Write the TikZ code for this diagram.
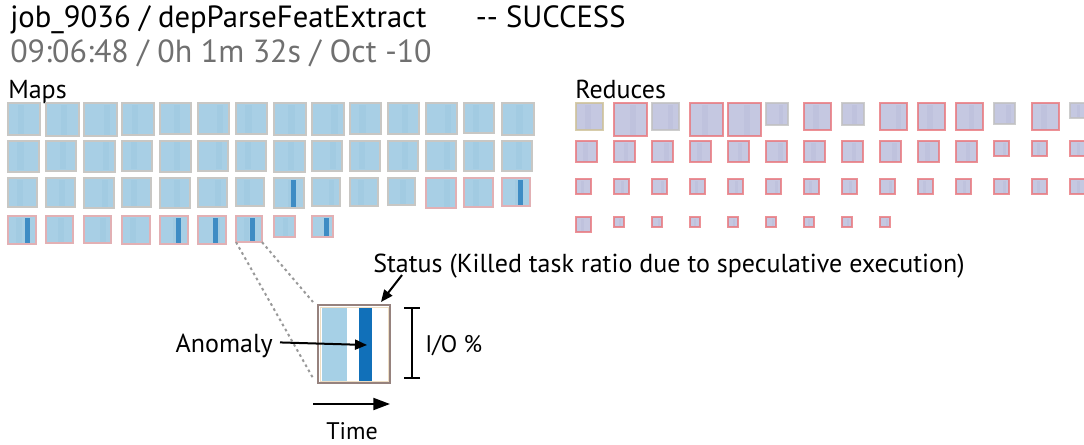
\documentclass[tikz,border=0pt]{standalone}
\usepackage{fontspec}
\setmainfont{PT Sans}
\usetikzlibrary{arrows.meta,calc}

\definecolor{mapfill}{RGB}{168,207,229}
\definecolor{mapband}{RGB}{155,199,224}
\definecolor{mapgray}{RGB}{200,199,196}
\definecolor{mappink}{RGB}{226,176,180}
\definecolor{anomblue}{RGB}{62,140,196}
\definecolor{redfill}{RGB}{197,200,225}
\definecolor{redband}{RGB}{186,190,219}
\definecolor{redline}{RGB}{232,118,124}
\definecolor{redgray}{RGB}{192,192,192}
\definecolor{redtan}{RGB}{205,192,150}
\definecolor{legline}{RGB}{150,130,126}
\definecolor{legcream}{RGB}{238,222,196}
\definecolor{ioblue}{RGB}{17,112,185}
\definecolor{iolight}{RGB}{166,208,230}
\definecolor{subgray}{RGB}{112,112,112}

\tikzset{
  task/.style={rectangle, inner sep=0pt, outer sep=0pt, anchor=north west, line width=1.6pt},
  mapbox/.style={task, fill=mapfill},
  redbox/.style={task, fill=redfill, line width=1.3pt, draw opacity=.8},
  txt/.style={inner sep=0pt, font=\fontsize{19.5}{23}\selectfont},
  pointer/.style={line width=1.5pt, -{Triangle[length=9pt,width=7.5pt]}},
  zoomline/.style={gray!80, line width=1.5pt, dash pattern=on 2pt off 2.4pt},
}

\begin{document}
\begin{tikzpicture}[x=0.75pt, y=-0.75pt]
    \useasboundingbox (0,0) rectangle (1084,444);

    % Kopfzeilen
    \node[txt, font=\fontsize{23}{27}\selectfont, anchor=base west] (title) at (10,27)
      {job\_9036 / depParseFeatExtract\hspace{37pt}{-}{-} SUCCESS};
    \node[txt, font=\fontsize{24}{28}\selectfont, text=subgray, anchor=base west] (sub) at (10,62)
      {09:06:48 / 0h 1m 32s / Oct -10};
    \node[txt, anchor=base west] (maps) at (8,98) {Maps};
    \node[txt, anchor=base west] (reduces) at (575,98) {Reduces};

    % Map-Tasks: Zeile/Spalte/Groesse/Rand/Anomalie
    \foreach \r/\c/\s/\b/\a in {
        1/0/32/mapgray/0, 1/1/33/mapgray/0, 1/2/33/mapgray/0, 1/3/32/mapgray/0, 1/4/31/mapgray/0,
        1/5/31/mapgray/0, 1/6/31/mapgray/0, 1/7/32/mapgray/0, 1/8/32/mapgray/0, 1/9/31/mapgray/0,
        1/10/31/mapgray/0, 1/11/31/mapgray/0, 1/12/30/mapgray/0, 1/13/32/mapgray/0,
        2/0/31/mapgray/0, 2/1/30/mapgray/0, 2/2/31/mapgray/0, 2/3/30/mapgray/0, 2/4/31/mapgray/0,
        2/5/30/mapgray/0, 2/6/30/mapgray/0, 2/7/31/mapgray/0, 2/8/30/mapgray/0, 2/9/30/mapgray/0,
        2/10/30/mapgray/0, 2/11/30/mapgray/0, 2/12/30/mapgray/0, 2/13/30/mapgray/0,
        3/0/29/mapgray/0, 3/1/29/mapgray/0, 3/2/30/mapgray/0, 3/3/29/mapgray/0, 3/4/30/mapgray/0,
        3/5/29/mapgray/0, 3/6/28/mapgray/0, 3/7/30/mapgray/17, 3/8/28/mapgray/0, 3/9/28/mapgray/0,
        3/10/27/mapgray/0, 3/11/30/mappink/0, 3/12/29/mappink/0, 3/13/28/mappink/16,
        4/0/28/mappink/17, 4/1/27/mappink/0, 4/2/27/mappink/0, 4/3/28/mappink/0, 4/4/28/mappink/16,
        4/5/28/mappink/15, 4/6/26/mappink/14, 4/7/21/mappink/0, 4/8/21/mappink/12} {
        \node[mapbox, draw=\b, minimum size=\s*0.75pt] (m-\r-\c) at ({8+38*\c},{103+37.7*(\r-1)}) {};
        \fill[mapband, opacity=.45] ($(m-\r-\c.north west)+({\s*(0.3+0.15*mod(\c,3))},1.5)$) rectangle +({\s*0.2},{\s-3});
        \ifnum\a>0 \fill[anomblue] ($(m-\r-\c.north west)+(\a,1.5)$) rectangle +(5,{\s-3}); \fi
    }

    % Reduce-Tasks
    \foreach \c/\s/\b in {0/27/redtan, 1/33/redline, 2/27/redgray, 3/33/redline, 4/33/redline,
        5/22/redgray, 6/27/redline, 7/22/redgray, 8/27/redline, 9/27/redline, 10/27/redline,
        11/21/redgray, 12/27/redline, 13/15/redgray} {
        \node[redbox, draw=\b, minimum size=\s*0.75pt] (r-1-\c) at ({576+38*\c},103) {};
    }
    \foreach \c in {0,...,13} {
        \pgfmathsetmacro\s{\c<11 ? 21 : 15}
        \node[redbox, draw=redline, minimum size=\s*0.75pt] (r-2-\c) at ({576+38*\c},141) {};
        \node[redbox, draw=redline, minimum size=15*0.75pt] (r-3-\c) at ({576+38*\c},179) {};
    }
    \foreach \c in {0,...,8} {
        \pgfmathsetmacro\s{\c<1 ? 15 : 10}
        \node[redbox, draw=redline, minimum size=\s*0.75pt] (r-4-\c) at ({576+38*\c},217) {};
    }
    \foreach \r/\n in {1/13, 2/13, 3/13, 4/8} {
        \foreach \c in {0,...,\n} {
            \fill[redband, opacity=.5] ($(r-\r-\c.north west)!{0.35+0.12*mod(\c,3)}!(r-\r-\c.north east)+(0,1.5)$)
                rectangle ($(r-\r-\c.south west)!{0.55+0.12*mod(\c,3)}!(r-\r-\c.south east)+(0,-1.5)$);
        }
    }

    % Legende
    \node[task, draw=legline, fill=white, minimum width=54pt, minimum height=58.5pt] (legend) at (318,305) {};
    \fill[iolight] ($(legend.north west)+(3.7,2.5)$) rectangle +(25,73);
    \fill[ioblue] ($(legend.north west)+(41.3,2.5)$) rectangle +(13,73);
    \draw[legcream, line width=0.6pt] ($(legend.north west)+(2,2)$) rectangle ($(legend.south east)+(-2,-2)$);

    % Lupe
    \draw[zoomline] (m-4-6.south west) -- ($(legend.south west)+(-5,-5)$);
    \draw[zoomline] (m-4-6.south east) -- ($(legend.north west)+(-5,-3)$);

    % Beschriftungen
    \node[txt, anchor=base west] (status) at (373,272) {Status (Killed task ratio due to speculative execution)};
    \coordinate (stail) at ($(status.base west)+(29,3)$);
    \draw[pointer] (stail) -- ($(legend.north east)+(-9,-3)$);

    \node[txt, anchor=base east] (anom) at (273,352) {Anomaly};
    \coordinate (ahead) at ($(legend.north west)+(49,40)$);
    \draw[pointer] ($(anom.east)+(7,-3)$) -- (ahead);

    \coordinate (iotop) at ($(legend.north east)+(22,2)$);
    \coordinate (iobot) at ($(legend.south east)+(22,-4)$);
    \draw[line width=1.5pt, {Bar[width=12pt]}-{Bar[width=12pt]}] (iotop) -- (iobot);
    \node[txt, font=\fontsize{18}{21}\selectfont, anchor=base west] (io) at (425,352) {I/O \%};

    \coordinate (t0) at ($(legend.south west)+(-5,21)$);
    \coordinate (t1) at ($(legend.south east)+(0,21)$);
    \draw[line width=1.5pt, -{Triangle[length=12.5pt,width=9pt]}] (t0) -- (t1);
    \node[txt, font=\fontsize{18}{21}\selectfont, anchor=base] (time) at (352,439) {Time};

\end{tikzpicture}
\end{document}
